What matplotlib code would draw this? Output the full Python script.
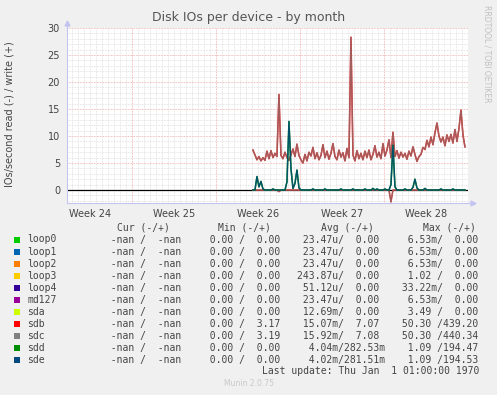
#!/usr/bin/env python3
import numpy as np
import matplotlib
matplotlib.use('Agg')
import matplotlib.pyplot as plt
from matplotlib.patches import Rectangle

W, H = 497, 395

# time axis in days, 0 = start of week 25 (the week boundaries are the red lines)
week_labels = ['Week 24', 'Week 25', 'Week 26', 'Week 27', 'Week 28']
week_centres = [-3.5, 3.5, 10.5, 17.5, 24.5]
t_start = 10.08      # first sample with data
t_step = 1.0 / 6     # 4 hours

# writes (+) per second, sdb and sdc trace on top of each other
sdb_write = [7.4, 6.5, 5.6, 6.2, 5.4, 6.0, 5.5, 7.2, 5.8, 7.3,
             6.0, 6.8, 6.2, 17.7, 6.4, 5.8, 7.0, 6.0, 5.5, 6.5,
             7.6, 6.2, 8.5, 6.4, 5.6, 5.0, 6.6, 5.4, 7.0, 6.3,
             7.9, 5.8, 6.9, 5.6, 6.4, 8.4, 6.0, 7.2, 5.7, 6.8,
             8.6, 6.2, 5.6, 7.4, 6.1, 6.9, 5.4, 7.7, 6.0, 28.3,
             6.5, 5.4, 7.3, 5.8, 6.8, 5.6, 7.2, 6.0, 7.4, 5.6,
             6.6, 8.2, 6.1, 7.0, 5.8, 8.6, 6.3, 7.4, 9.3, 6.0,
             10.7, 6.2, 7.3, 5.9, 7.0, 6.1, 6.8, 5.7, 7.2, 6.3,
             8.0, 6.6, 5.3, 6.2, 6.6, 7.9, 7.5, 9.2, 8.0, 9.8,
             8.4, 10.6, 12.4, 10.0, 8.9, 9.8, 8.2, 10.2, 9.0, 10.3,
             8.7, 11.2, 9.0, 11.4, 14.8, 10.2, 8.0]
sdc_write = sdb_write

# reads (-) of sdb/sdc: only two non-zero samples
sdb_read_idx = [13, 69]
sdb_read_val = [-0.3, -2.2]

# sdd / sde writes: zero except these samples
sde_idx = [2, 3, 4, 5, 10, 17, 18, 19, 20, 21, 22, 23, 30, 36, 44, 50, 56, 60,
           62, 66, 69, 70, 71, 76, 80, 81, 82, 86, 94, 100]
sde_val = [2.5, 0.6, 1.6, 0.2, 0.2, 1.5, 12.7, 4.0, 0.3, 1.2, 3.7, 0.4, 0.2, 0.2,
           0.2, 0.2, 0.2, 0.3, 0.2, 0.2, 1.0, 8.3, 0.6, 0.2, 0.5, 2.0, 0.4, 0.3,
           0.2, 0.2]

# legend table
names = ['loop0', 'loop1', 'loop2', 'loop3', 'loop4', 'md127', 'sda', 'sdb', 'sdc', 'sdd', 'sde']
colors = ['#00CC00', '#0066B3', '#FF8000', '#FFCC00', '#330099', '#990099',
          '#CCFF00', '#FF0000', '#808080', '#008F00', '#00487D']
min_write = ['0.00'] * 7 + ['3.17', '3.19', '0.00', '0.00']
avg_read = ['23.47u', '23.47u', '23.47u', '243.87u', '51.12u', '23.47u',
            '12.69m', '15.07m', '15.92m', '4.04m', '4.02m']
avg_write = ['0.00'] * 7 + ['7.07', '7.08', '282.53m', '281.51m']
max_read = ['6.53m', '6.53m', '6.53m', '1.02', '33.22m', '6.53m',
            '3.49', '50.30', '50.30', '1.09', '1.09']
max_write = ['0.00'] * 7 + ['439.20', '440.34', '194.47', '194.53']

n = len(sdb_write)
t = t_start + np.arange(n) * t_step
sdb_read = np.zeros(n)
sdb_read[sdb_read_idx] = sdb_read_val
sde_write = np.zeros(n)
sde_write[sde_idx] = sde_val


def fx(x):
    return x / W


def fy(y):
    return 1 - y / H


def fmt(s):
    # rrdtool style %6.2lf%s
    if s[-1] in 'um':
        return '%6s%s' % (s[:-1], s[-1])
    return '%6s ' % s


txt = '#444444'
axc = '#c4c4f0'

fig = plt.figure(figsize=(W / 100, H / 100), dpi=100, facecolor='#f0f0f0')
ax = fig.add_axes([fx(67), fy(203), (468 - 67) / W, (203 - 28) / H])
ax.set_facecolor('white')
ax.set_xlim(-65 / 12, 28)
ax.set_ylim(-2.4, 30)

# grid
for v in np.arange(-2, 31, 1):
    major = v % 5 == 0
    ax.axhline(v, color='#eeaaaa' if major else '#dedede', lw=0.7,
               dashes=(0.7, 0.9), zorder=1)
for v in np.arange(-5, 28.01, 0.5):
    major = v % 7 == 0
    ax.axvline(v, color='#eeaaaa' if major else '#dedede', lw=0.7,
               dashes=(0.7, 0.9), zorder=1)

ax.axhline(0, color='black', lw=0.9, zorder=2)

ax.plot(t, sdb_read, color='#FF0000', lw=1.0, zorder=3)
ax.plot(t, sdb_read, color='#808080', lw=1.0, alpha=0.7, zorder=3)
ax.plot(t, sdb_write, color='#FF0000', lw=1.1, zorder=3)
ax.plot(t, sdc_write, color='#808080', lw=1.0, alpha=0.72, zorder=4)
ax.plot(t, sde_write, color='#008F00', lw=1.1, zorder=5)
ax.plot(t, sde_write, color='#00487D', lw=1.0, alpha=0.85, zorder=6)

for s in ['top', 'right']:
    ax.spines[s].set_visible(False)
for s in ['left', 'bottom']:
    ax.spines[s].set_color(axc)
    ax.spines[s].set_linewidth(0.8)
ax.plot([0, 0], [1, 1.03], color=axc, lw=0.8, transform=ax.transAxes, clip_on=False)
ax.plot([1, 1.012], [0, 0], color=axc, lw=0.8, transform=ax.transAxes, clip_on=False)
ax.plot(0, 1.03, marker='^', ms=3.5, color=axc, transform=ax.transAxes, clip_on=False)
ax.plot(1.012, 0, marker='>', ms=3.5, color=axc, transform=ax.transAxes, clip_on=False)

ax.set_yticks([0, 5, 10, 15, 20, 25, 30])
ax.set_xticks(week_centres)
ax.set_xticklabels(week_labels)
ax.tick_params(length=0, labelsize=7, colors=txt, pad=4)
ax.tick_params(axis='y', pad=5)

fig.text(0.5, fy(18), 'Disk IOs per device - by month', ha='center', va='center',
         fontsize=9, color='#555555')
fig.text(fx(10), fy(114), 'IOs/second read (-) / write (+)', rotation=90,
         ha='center', va='center', fontsize=7, color=txt)
fig.text(fx(487), fy(5), 'RRDTOOL / TOBI OETIKER', rotation=270, ha='center',
         va='top', fontsize=5.5, color='#c0c0c0')

mono = dict(family='DejaVu Sans Mono', fontsize=7, color=txt, va='center')
for lab, x in zip(['Cur (-/+)', 'Min (-/+)', 'Avg (-/+)', 'Max (-/+)'],
                  [116.7, 218, 321, 423]):
    fig.text(fx(x), fy(228), lab, **mono)

for k, name in enumerate(names):
    y = 239.5 + 12.04 * k
    fig.add_artist(Rectangle((fx(14), fy(y + 3)), 6 / W, 6 / H,
                             transform=fig.transFigure, color=colors[k], lw=0))
    fig.text(fx(27), fy(y), name, **mono)
    fig.text(fx(99.3), fy(y), '%6s /%6s' % ('-nan', '-nan'), **mono)
    fig.text(fx(198), fy(y), fmt('0.00') + '/' + fmt(min_write[k]), **mono)
    fig.text(fx(297), fy(y), fmt(avg_read[k]) + '/' + fmt(avg_write[k]), **mono)
    fig.text(fx(396), fy(y), fmt(max_read[k]) + '/' + fmt(max_write[k]), **mono)

fig.text(fx(261.7), fy(371.5), 'Last update: Thu Jan  1 01:00:00 1970', **mono)
fig.text(0.5, fy(384), 'Munin 2.0.75', ha='center', va='center', fontsize=5.5,
         color='#c8c8c8')

fig.savefig('out.png', dpi=100, facecolor=fig.get_facecolor())
